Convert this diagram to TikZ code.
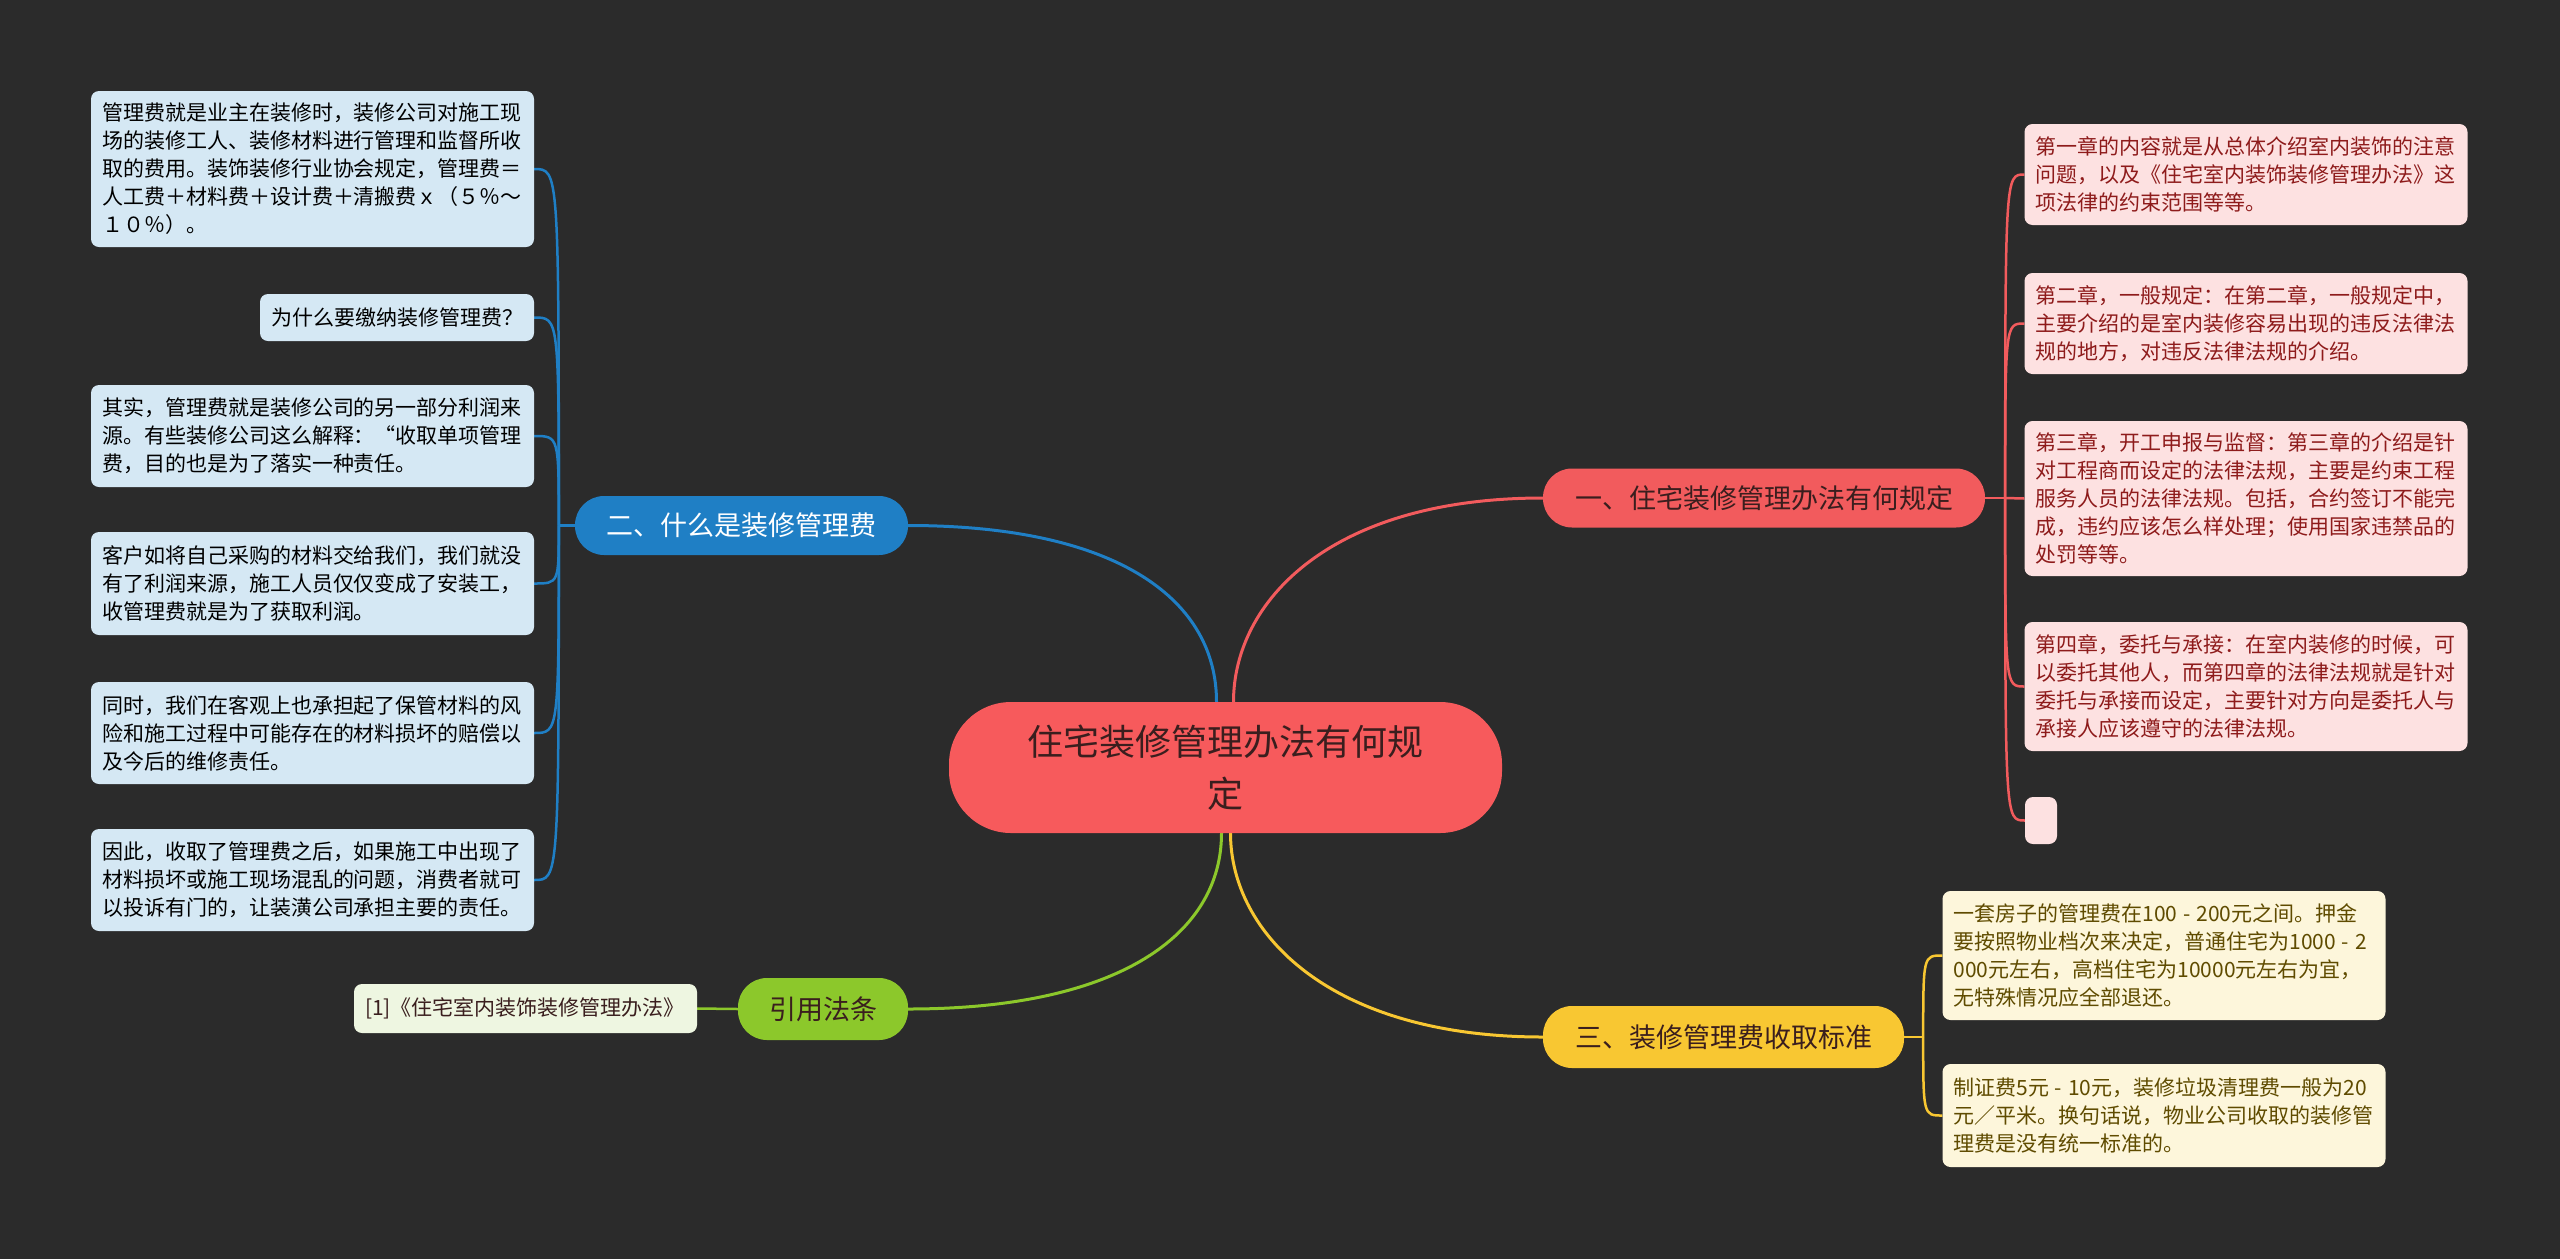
\documentclass[tikz,border=0pt]{standalone}
\usepackage{tikz}
\usetikzlibrary{shapes,backgrounds,positioning}
\usepackage{xcolor}
\usepackage{fontspec}
\setmainfont{Noto Sans CJK SC}

\definecolor{bgdark}{HTML}{2B2B2B}
\definecolor{rootred}{HTML}{F75A5C}
\definecolor{roottext}{HTML}{3A1E1E}
\definecolor{lawred}{HTML}{F25B5D}
\definecolor{feeblue}{HTML}{1F7FC5}
\definecolor{stdyellow}{HTML}{F8C732}
\definecolor{citegreen}{HTML}{8CC82B}
\definecolor{bluefill}{HTML}{D5E8F4}
\definecolor{pinkfill}{HTML}{FDE1E1}
\definecolor{pinktext}{HTML}{8E1B1B}
\definecolor{creamfill}{HTML}{FDF6DB}
\definecolor{creamtext}{HTML}{5F4B00}
\definecolor{mintfill}{HTML}{EEF6E1}

\begin{document}
\begin{tikzpicture}[x=1pt, y=-1pt,
    root/.style={fill=rootred, text=roottext, rounded corners=62pt, align=center,
        minimum width=553pt, minimum height=131pt, inner sep=0pt,
        font=\fontsize{36}{52}\selectfont},
    topic/.style={rounded corners=29pt, minimum height=59pt, inner sep=0pt,
        font=\fontsize{27}{32}\selectfont},
    leaf/.style={rounded corners=8pt, align=left, text width=421pt,
        inner xsep=11pt, inner ysep=0pt, font=\fontsize{21}{28}\selectfont},
    link/.style={line width=3pt},
    twig/.style={line width=2.5pt}]
            \def\W{2560}
            \def\H{1259}
            \def\dash{\makebox[0.9em]{-}}
            \useasboundingbox (0,0) rectangle (\W,\H);

            % centre and main topics
            \node[root] (root) at (1225.5,767.5) {住宅装修管理办法有何规\\定};
            \node[topic, fill=lawred, text=roottext, minimum width=442pt] (law) at (1764,498) {一、住宅装修管理办法有何规定};
            \node[topic, fill=feeblue, text=white, minimum width=333pt] (fee) at (741.5,525.5) {二、什么是装修管理费};
            \node[topic, fill=stdyellow, text=roottext, minimum width=361pt, minimum height=62pt] (std) at (1723.5,1037) {三、装修管理费收取标准};
            \node[topic, fill=citegreen, text=roottext, minimum width=170pt, minimum height=62pt] (cite) at (823,1009) {引用法条};

            % blue leaves
            \node[leaf, fill=bluefill, minimum height=156pt] (feeA) at (312.5,169) {管理费就是业主在装修时，装修公司对施工现\\
                场的装修工人、装修材料进行管理和监督所收\\
                取的费用。装饰装修行业协会规定，管理费＝\\
                人工费＋材料费＋设计费＋清搬费ｘ（５％～\\
                １０％）。};
            \node[leaf, fill=bluefill, text width=252pt, minimum height=47pt] (feeB) at (397,317.5) {为什么要缴纳装修管理费？};
            \node[leaf, fill=bluefill, minimum height=102pt] (feeC) at (312.5,436) {其实，管理费就是装修公司的另一部分利润来\\
                源。有些装修公司这么解释：“收取单项管理\\
                费，目的也是为了落实一种责任。};
            \node[leaf, fill=bluefill, minimum height=103pt] (feeD) at (312.5,583.5) {客户如将自己采购的材料交给我们，我们就没\\
                有了利润来源，施工人员仅仅变成了安装工，\\
                收管理费就是为了获取利润。};
            \node[leaf, fill=bluefill, minimum height=102pt] (feeE) at (312.5,733) {同时，我们在客观上也承担起了保管材料的风\\
                险和施工过程中可能存在的材料损坏的赔偿以\\
                及今后的维修责任。};
            \node[leaf, fill=bluefill, minimum height=102pt] (feeF) at (312.5,880) {因此，收取了管理费之后，如果施工中出现了\\
                材料损坏或施工现场混乱的问题，消费者就可\\
                以投诉有门的，让装潢公司承担主要的责任。};

            % pink leaves
            \node[leaf, fill=pinkfill, text=pinktext, minimum height=101pt] (lawA) at (2246,174.5) {第一章的内容就是从总体介绍室内装饰的注意\\
                问题，以及《住宅室内装饰装修管理办法》这\\
                项法律的约束范围等等。};
            \node[leaf, fill=pinkfill, text=pinktext, minimum height=101pt] (lawB) at (2246,323.5) {第二章，一般规定：在第二章，一般规定中，\\
                主要介绍的是室内装修容易出现的违反法律法\\
                规的地方，对违反法律法规的介绍。};
            \node[leaf, fill=pinkfill, text=pinktext, minimum height=155pt] (lawC) at (2246,498.5) {第三章，开工申报与监督：第三章的介绍是针\\
                对工程商而设定的法律法规，主要是约束工程\\
                服务人员的法律法规。包括，合约签订不能完\\
                成，违约应该怎么样处理；使用国家违禁品的\\
                处罚等等。};
            \node[leaf, fill=pinkfill, text=pinktext, minimum height=129pt] (lawD) at (2246,686.5) {第四章，委托与承接：在室内装修的时候，可\\
                以委托其他人，而第四章的法律法规就是针对\\
                委托与承接而设定，主要针对方向是委托人与\\
                承接人应该遵守的法律法规。};
            \node[leaf, fill=pinkfill, text width=10pt, minimum height=47pt] (lawE) at (2041,820.5) {};

            % cream leaves
            \node[leaf, fill=creamfill, text=creamtext, minimum height=129pt] (stdA) at (2164,955.5) {一套房子的管理费在100\dash200元之间。押金\\
                要按照物业档次来决定，普通住宅为1000\dash2\\
                000元左右，高档住宅为10000元左右为宜，\\
                无特殊情况应全部退还。};
            \node[leaf, fill=creamfill, text=creamtext, minimum height=103pt] (stdB) at (2164,1115.5) {制证费5元\dash10元，装修垃圾清理费一般为20\\
                元／平米。换句话说，物业公司收取的装修管\\
                理费是没有统一标准的。};

            % citation leaf
            \node[leaf, fill=mintfill, text=roottext, text width=321pt, minimum height=49pt] (citeA) at (525.5,1008.5) {[1]《住宅室内装饰装修管理办法》};

            \begin{scope}[on background layer]
            \fill[bgdark] (0,0) rectangle (\W,\H);

            \draw[link, lawred] (root.north) ++(8,0) .. controls +(0,-100) and +(-213,0) .. (law.west);
            \draw[link, feeblue] (root.north) ++(-9,0) .. controls +(0,-100) and +(213,0) .. (fee.east);
            \draw[link, citegreen] (root.south) ++(-4,0) .. controls +(0,100) and +(213,0) .. (cite.east);
            \draw[link, stdyellow] (root.south) ++(5,0) .. controls +(0,100) and +(-213,0) .. (std.west);

            \draw[twig, feeblue] (fee.west) -- ++(-16,0) coordinate (feeK);
            \draw[twig, feeblue] (feeK) .. controls (feeK |- feeA.east) .. (feeA.east);
            \draw[twig, feeblue] (feeK) .. controls (feeK |- feeB.east) .. (feeB.east);
            \draw[twig, feeblue] (feeK) .. controls (feeK |- feeC.east) .. (feeC.east);
            \draw[twig, feeblue] (feeK) .. controls (feeK |- feeD.east) .. (feeD.east);
            \draw[twig, feeblue] (feeK) .. controls (feeK |- feeE.east) .. (feeE.east);
            \draw[twig, feeblue] (feeK) .. controls (feeK |- feeF.east) .. (feeF.east);

            \draw[twig, lawred] (law.east) -- ++(20,0) coordinate (lawK);
            \draw[twig, lawred] (lawK) .. controls (lawK |- lawA.west) .. (lawA.west);
            \draw[twig, lawred] (lawK) .. controls (lawK |- lawB.west) .. (lawB.west);
            \draw[twig, lawred] (lawK) -- (lawC.west);
            \draw[twig, lawred] (lawK) .. controls (lawK |- lawD.west) .. (lawD.west);
            \draw[twig, lawred] (lawK) .. controls (lawK |- lawE.west) .. (lawE.west);

            \draw[twig, stdyellow] (std.east) -- ++(19,0) coordinate (stdK);
            \draw[twig, stdyellow] (stdK) .. controls (stdK |- stdA.west) .. (stdA.west);
            \draw[twig, stdyellow] (stdK) .. controls (stdK |- stdB.west) .. (stdB.west);

            \draw[twig, citegreen] (cite.west) -- (citeA.east);
            \end{scope}
        \end{tikzpicture}
\end{document}
